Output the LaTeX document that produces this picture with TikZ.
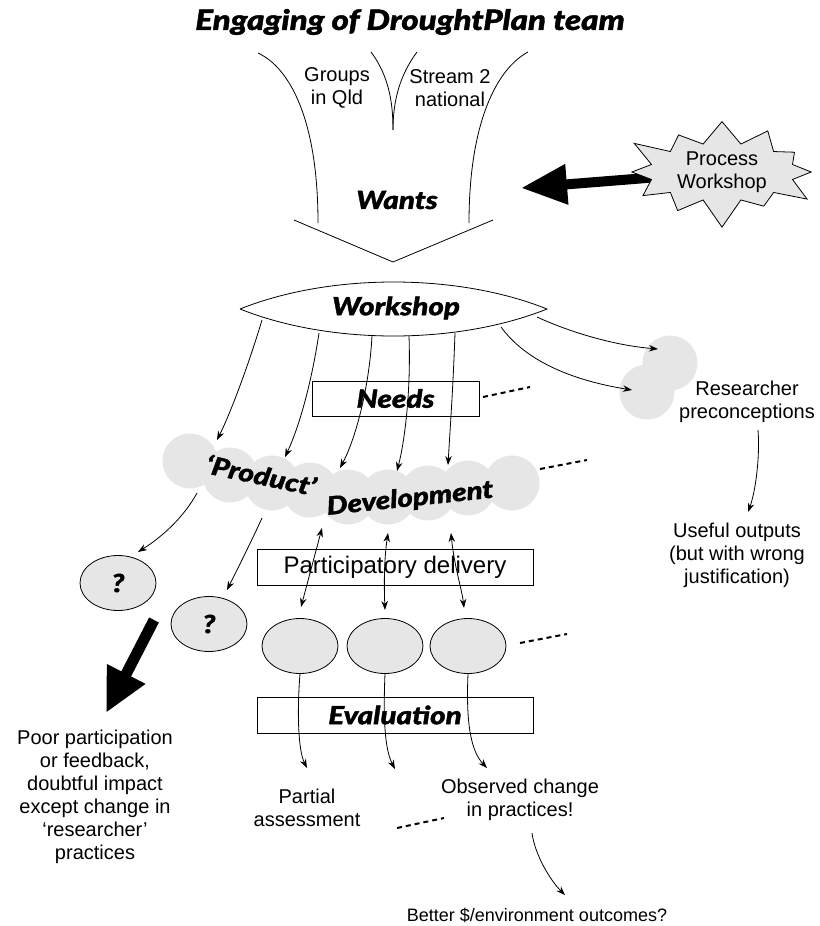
\documentclass[tikz,border=0pt]{standalone}
\usepackage{fontspec}
\setmainfont{Liberation Sans}
\IfFontExistsTF{Lato Black Italic}
  {\newfontfamily\heavyfont{Lato Black Italic}[FakeStretch=1.18, FakeBold=1.6]}
  {\IfFontExistsTF{Poppins Black Italic}
    {\newfontfamily\heavyfont{Poppins Black Italic}}
    {\newfontfamily\heavyfont{Liberation Sans Bold Italic}[FakeBold=1.5]}}
\usetikzlibrary{arrows.meta,shapes.geometric,shapes.symbols,backgrounds}
\definecolor{shade}{HTML}{E6E6E6}
\begin{document}
\begin{tikzpicture}[x=1pt,y=-1pt,
  txt/.style={font=\fontsize{20}{23}\selectfont, align=center, inner sep=0pt},
  hv/.style={font=\heavyfont\fontsize{25}{29}\selectfont, inner sep=0pt},
  hvbig/.style={font=\heavyfont\fontsize{28}{32}\selectfont, inner sep=0pt},
  thin/.style={line width=0.8pt},
  conn/.style={thin, -{Stealth[length=9pt,width=6.5pt]}},
  dconn/.style={thin, {Stealth[length=9pt,width=6.5pt]}-{Stealth[length=9pt,width=6.5pt]}},
  dots/.style={line width=2pt, dash pattern=on 5pt off 4pt},
  bubble/.style={ellipse, draw, fill=shade, thin, minimum width=76pt, minimum height=55pt, inner sep=0pt},
  puff/.style={circle, fill=shade, minimum size=55pt, inner sep=0pt},
  box/.style={draw, thin, minimum width=276pt, minimum height=36pt, inner sep=0pt},
  fat/.style={line width=10pt, -{Triangle[length=46pt,width=38pt]}}
]
\useasboundingbox (0,0) rectangle (819,926);

% connector end points
\coordinate (wtip) at (521,188);
\coordinate (wsL) at (240,309);
\coordinate (wsR) at (547,309);
\coordinate (w1) at (262,320);  \coordinate (p1) at (217,440);
\coordinate (w2) at (319,333);  \coordinate (p2) at (285,457);
\coordinate (w3) at (372,336);  \coordinate (p3) at (340,468);
\coordinate (w4) at (409,336);  \coordinate (p4) at (397,471);
\coordinate (w5) at (455,333);  \coordinate (p5) at (448,465);
\coordinate (w6) at (537,317);  \coordinate (r1) at (658,349);
\coordinate (w7) at (501,327);  \coordinate (r2) at (632,390);
\coordinate (qa1) at (197,493); \coordinate (qb1) at (138,552);
\coordinate (qa2) at (262,518); \coordinate (qb2) at (227,590);
\coordinate (fa) at (154,620);  \coordinate (fb) at (106,713);
\coordinate (u1) at (322,528);  \coordinate (l1) at (301,607);
\coordinate (u2) at (388,533);  \coordinate (l2) at (385,610);
\coordinate (u3) at (451,533);  \coordinate (l3) at (464,608);
\coordinate (t1) at (307,768);
\coordinate (t2) at (395,769);
\coordinate (t3) at (487,768);
\coordinate (ob) at (532,833);  \coordinate (bt) at (565,895);
\coordinate (rs) at (758,430);  \coordinate (us) at (748,512);
\coordinate (da1) at (483,397); \coordinate (db1) at (530,387);
\coordinate (da2) at (540,469); \coordinate (db2) at (587,460);
\coordinate (da3) at (520,643); \coordinate (db3) at (567,634);
\coordinate (da4) at (397,828); \coordinate (db4) at (444,818);

% title and funnel of wants
\node[hvbig] (title) at (410,22) {Engaging of DroughtPlan team};
\draw[thin] (258,53) .. controls (290,68) and (318,120) .. (318,223);
\draw[thin] (528,52) .. controls (498,68) and (469,120) .. (469,223);
\draw[thin] (371,52) .. controls (388,75) and (393,100) .. (393,130);
\draw[thin] (417,52) .. controls (400,75) and (393,100) .. (393,130);
\draw[thin] (294,220) -- (393,262) -- (493,220);
\node[txt] (groups) at (337,88) {Groups\\in Qld};
\node[txt] (stream) at (450,88) {Stream 2\\national};
\node[hv] (wants) at (397,200) {Wants};

% process workshop burst and its heavy arrow
\node[starburst, draw, fill=shade, thin, starburst points=12,
      starburst point height=30pt, minimum width=206pt, minimum height=100pt,
      txt] (pw) at (722,172) {Process\\Workshop};
\begin{scope}[on background layer]
  \fill[white] (0,0) rectangle (819,926);
  \draw[fat] (pw.center) -- (wtip);
\end{scope}

% product development cloud
\foreach \x/\y [count=\i] in {190/461, 230/475, 272/483, 310/490, 348/497,
                              388/497, 428/493, 468/488, 512/483}
  \node[puff] (pc\i) at (\x,\y) {};
\node[hv, rotate=-12] (prod) at (261,475) {‘Product’};
\node[hv, rotate=6] (dev) at (410,499) {Development};

% researcher preconceptions
\node[puff] (rc1) at (670,363) {};
\node[puff] (rc2) at (647,392) {};
\node[txt] (resp) at (747,402) {Researcher\\preconceptions};
\node[txt] (useful) at (737,555) {Useful outputs\\(but with wrong\\justification)};

% workshop lens
\draw[thin, fill=white] (wsL) .. controls (330,273) and (457,273) .. (wsR)
      .. controls (457,345) and (330,345) .. (wsL);
\node[hv] (ws) at (396,308) {Workshop};

% needs
\node[box, hv, minimum width=167pt, minimum height=35pt] (needs) at (395.5,398.5) {Needs};
\draw[dots] (da1) -- (db1);
\draw[dots] (da2) -- (db2);

% arrows out of the workshop
\draw[conn] (w1) .. controls (250,360) and (232,410) .. (p1);
\draw[conn] (w2) .. controls (312,380) and (300,425) .. (p2);
\draw[conn] (w3) .. controls (369,390) and (355,440) .. (p3);
\draw[conn] (w4) .. controls (411,390) and (405,440) .. (p4);
\draw[conn] (w5) .. controls (453,390) and (450,430) .. (p5);
\draw[conn] (w6) .. controls (565,330) and (610,345) .. (r1);
\draw[conn] (w7) .. controls (525,360) and (570,380) .. (r2);
\draw[conn] (rs) .. controls (760,455) and (756,490) .. (us);

% unknown outcomes
\node[bubble, hv] (q1) at (118,583) {?};
\node[bubble, hv] (q2) at (209,624) {?};
\draw[conn] (qa1) .. controls (185,515) and (165,535) .. (qb1);
\draw[conn] (qa2) .. controls (252,540) and (238,568) .. (qb2);
\draw[line width=11pt, -{Triangle[length=44pt,width=40pt]}] (fa) -- (fb);
\node[txt] (poor) at (95,797) {Poor participation\\or feedback,\\doubtful impact\\except change in\\‘researcher’\\practices};

% delivery
\node[box, txt, font=\fontsize{24}{28}\selectfont] (pd) at (395,567) {Participatory delivery};
\node[bubble] (e1) at (300,646) {};
\node[bubble] (e2) at (385,646) {};
\node[bubble] (e3) at (468,646) {};
\draw[dconn] (u1) -- (l1);
\draw[dconn] (u2) .. controls (384,560) and (384,585) .. (l2);
\draw[dconn] (u3) .. controls (454,565) and (462,590) .. (l3);
\draw[dots] (da3) -- (db3);

% evaluation
\node[box, hv] (ev) at (395,715) {Evaluation};
\draw[conn] (e1.south) .. controls (297,710) and (298,750) .. (t1);
\draw[conn] (e2.south) .. controls (383,720) and (385,750) .. (t2);
\draw[conn] (e3.south) .. controls (466,720) and (470,750) .. (t3);
\node[txt] (partial) at (307,808) {Partial\\assessment};
\node[txt] (observed) at (520,800) {Observed change\\in practices!};
\draw[dots] (da4) -- (db4);
\draw[conn] (ob) .. controls (535,855) and (550,880) .. (bt);
\node[txt, font=\fontsize{18}{21}\selectfont] (better) at (537,915) {Better \$/environment outcomes?};
\end{tikzpicture}
\end{document}
